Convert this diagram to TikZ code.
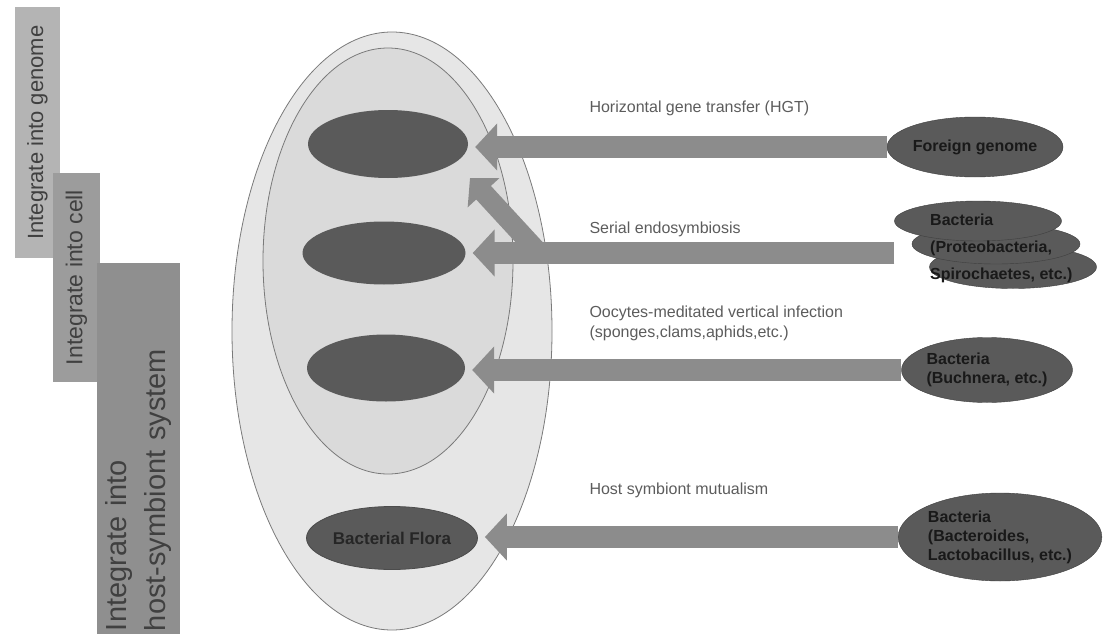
\documentclass[tikz,border=0pt]{standalone}
\usepackage{fontspec}
\setmainfont{Liberation Sans}
\usepackage{tikz}
\usetikzlibrary{
  arrows.meta,
  shapes,
  shapes.geometric,
  calc
}
\definecolor{sbHost}{HTML}{E6E6E6}
\definecolor{sbCell}{HTML}{DADADA}
\definecolor{sbDark}{HTML}{5A5A5A}
\definecolor{sbArrow}{HTML}{8C8C8C}
\definecolor{sbText}{HTML}{5C5C5C}
\definecolor{sbLine}{HTML}{7A7A7A}
\definecolor{sbBarA}{HTML}{B4B4B4}
\definecolor{sbBarB}{HTML}{9C9C9C}
\definecolor{sbBarC}{HTML}{8F8F8F}
\tikzset{
  hostshape/.style={ellipse, draw=sbLine, thick, fill=sbHost, inner sep=0pt},
  organelle/.style={ellipse, fill=sbDark, inner sep=0pt, font=\fontsize{17}{19}\selectfont\bfseries, text=black!85},
  donor/.style={ellipse, fill=sbDark, draw=sbDark!70!black, inner sep=0pt, align=left,
    font=\fontsize{16}{19}\selectfont\bfseries, text=black!90},
  levelbar/.style={rectangle, rotate=90, inner sep=0pt, text=black!75},
  flow/.style={-{Triangle[length=22pt, width=46pt]}, line width=22pt, sbArrow, shorten >=7pt},
  tag/.style={anchor=west, align=left, text=sbText, font=\fontsize{16}{20}\selectfont}
}
\begin{document}
\begin{tikzpicture}[x=1pt, y=-1pt]
  \useasboundingbox (0,0) rectangle (1106,634);

  % levels of integration
  \node[levelbar, fill=sbBarA, minimum width=251pt, minimum height=45pt,
    font=\fontsize{22}{24}\selectfont] (lgenome) at (37.5,132.5) {Integrate into genome};
  \node[levelbar, fill=sbBarB, minimum width=209pt, minimum height=47pt,
    font=\fontsize{23}{25}\selectfont] (lcell) at (76.5,277.5) {Integrate into cell};
  \node[levelbar, fill=sbBarC, minimum height=83pt, text width=365pt, align=left,
    inner xsep=3pt, font=\fontsize{29}{39}\selectfont] (lhost) at (138.5,448.5)
    {Integrate into\\host-symbiont system};

  % host and cell
  \node[hostshape, minimum width=320pt, minimum height=598pt] (host) at (392,331) {};
  \node[hostshape, fill=sbCell, minimum width=250pt, minimum height=426pt] (cell) at (388,261) {};
  \node[organelle, minimum width=160pt, minimum height=68pt] (g1) at (388,144) {};
  \node[organelle, minimum width=163pt, minimum height=63pt] (g2) at (384,253) {};
  \node[organelle, minimum width=158pt, minimum height=67pt] (g3) at (386,368) {};
  \node[organelle, draw=black!70, thick, minimum width=171pt, minimum height=63pt] (flora) at (392,538) {Bacterial Flora};

  % sources
  \node[donor, minimum width=155pt, minimum height=60pt] (fgen) at (975,147) {Foreign genome};
  \node[donor, minimum width=167pt, minimum height=43pt] (bsp) at (1013,267) {};
  \node[donor, minimum width=168pt, minimum height=40pt] (bpro) at (996,244) {};
  \node[donor, minimum width=167pt, minimum height=40pt] (bbac) at (978,221) {};
  \node[donor, draw=none, fill=none, rectangle, anchor=west, font=\fontsize{16}{27}\selectfont\bfseries]
    (bstack) at (930,248) {Bacteria\\(Proteobacteria,\\Spirochaetes, etc.)};
  \node[donor, minimum width=157pt, minimum height=65pt] (bbuch) at (987,370) {Bacteria\\(Buchnera, etc.)};
  \node[donor, minimum width=200pt, minimum height=88pt] (blact) at (1000,537) {Bacteria\\(Bacteroides,\\Lactobacillus, etc.)};

  % transfers
  \coordinate (fork) at (540,254);
  \coordinate (g1tip) at (470,178);
  \draw[flow, line width=20pt, -{Triangle[length=20pt, width=42pt]}, shorten >=0pt] (fork) -- (g1tip);
  \draw[flow] (fgen.west) -- (fgen.west -| g1.east);
  \draw[flow] (g2 -| bbac.west) -- (g2.east);
  \draw[flow] (bbuch.west) -- (bbuch.west -| g3.east);
  \draw[flow] (blact.west) -- (blact.west -| flora.east);

  \node[tag] (thgt) at (586,108) {Horizontal gene transfer (HGT)};
  \node[tag] (tser) at (586,229) {Serial endosymbiosis};
  \node[tag] (tvert) at (586,323) {Oocytes-meditated vertical infection\\(sponges,clams,aphids,etc.)};
  \node[tag] (tmut) at (586,490) {Host symbiont mutualism};
\end{tikzpicture}
\end{document}
